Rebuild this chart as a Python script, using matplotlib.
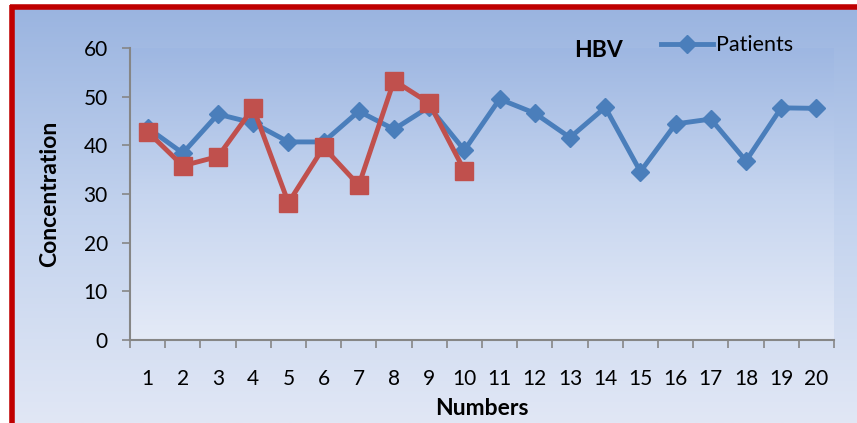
import numpy as np
import matplotlib.pyplot as plt
from matplotlib.lines import Line2D
from matplotlib.colors import LinearSegmentedColormap

# data
numbers = list(range(1, 21))
patients = [43.6, 38.4, 46.4, 44.6, 40.7, 40.7, 47.0, 43.3, 47.9, 39.0,
            49.5, 46.6, 41.6, 47.8, 34.6, 44.4, 45.4, 36.8, 47.7, 47.6]
controls = [42.8, 35.8, 37.7, 47.7, 28.2, 39.6, 31.8, 53.3, 48.7, 34.8]

plt.rcParams['font.family'] = ['Lato', 'DejaVu Sans']

W, H = 857, 423
fig = plt.figure(figsize=(W / 100, H / 100), dpi=100)
fig.patch.set_facecolor('white')

# background gradient inside the red frame
grad = LinearSegmentedColormap.from_list('bg', ['#9AB4E0', '#C3D3EE', '#E1E7F5'])
bg = fig.add_axes([0, 0, 1, 1], zorder=-2)
bg.imshow(np.linspace(0, 1, 256).reshape(-1, 1), aspect='auto', cmap=grad,
          extent=[12 / W, 1, 0, 1 - 7 / H], origin='upper')
bg.set_xlim(0, 1)
bg.set_ylim(0, 1)
bg.axis('off')

# red frame: left and top edges only
fx, fy = 11.5, 7.5
fig.add_artist(Line2D([fx / W, fx / W], [0, 1 - (fy - 2) / H], transform=fig.transFigure,
                      color='#C00000', lw=4.0, solid_capstyle='butt'))
fig.add_artist(Line2D([(fx - 2) / W, 1], [1 - fy / H, 1 - fy / H], transform=fig.transFigure,
                      color='#C00000', lw=4.0, solid_capstyle='butt'))

# plot area
left, right, top, bottom = 130, 834, 48, 340
ax = fig.add_axes([left / W, 1 - bottom / H, (right - left) / W, (bottom - top) / H])
pgrad = LinearSegmentedColormap.from_list('pa', ['#9EB7E2', '#C6D5EF', '#E4EAF7'])
ax.imshow(np.linspace(0, 1, 256).reshape(-1, 1), aspect='auto', cmap=pgrad,
          extent=[0.5, 20.5, 0, 60], origin='upper', zorder=0)

blue = '#4A7EBB'
red = '#C0504D'
ax.plot(numbers, patients, color=blue, lw=3.5, marker='D', ms=9,
        mfc=blue, mec=blue, label='Patients', zorder=3)
ax.plot(numbers[:len(controls)], controls, color=red, lw=3.5, marker='s', ms=13,
        mfc=red, mec=red, zorder=4)

ax.set_xlim(0.5, 20.5)
ax.set_ylim(0, 60)
ax.set_yticks(range(0, 61, 10))
ax.set_xticks(numbers)
ax.set_xticks(np.arange(0.5, 21, 1), minor=True)
ax.tick_params(axis='x', which='major', length=0, pad=21, labelsize=15)
ax.tick_params(axis='x', which='minor', length=6, width=1.2, color='#868686')
ax.tick_params(axis='y', length=6, width=1.2, color='#868686', labelsize=15, pad=10)

for s in ['top', 'right']:
    ax.spines[s].set_visible(False)
for s in ['left', 'bottom']:
    ax.spines[s].set_color('#868686')
    ax.spines[s].set_linewidth(1.5)

ax.set_ylabel('Concentration', fontsize=16.5, fontweight='bold', labelpad=17)
ax.set_xlabel('Numbers', fontsize=16.5, fontweight='bold', labelpad=6)

ax.text(0.666, 0.993, 'HBV', transform=ax.transAxes, fontsize=16.5,
        fontweight='bold', ha='center', va='center')
leg = ax.legend(loc='center right', bbox_to_anchor=(0.942, 1.01), frameon=False,
                fontsize=15.5, handlelength=2.4, handletextpad=0.15,
                borderaxespad=0, borderpad=0)

fig.savefig('out.png', dpi=100, facecolor='white')
